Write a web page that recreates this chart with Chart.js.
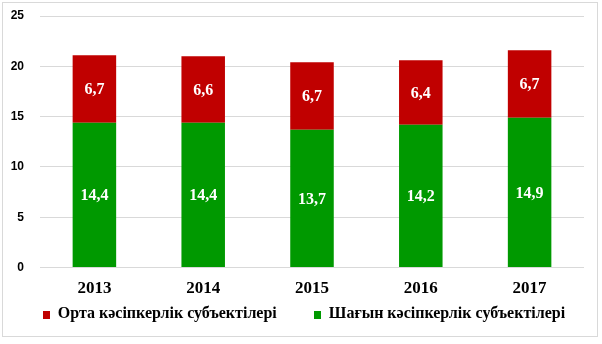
<!DOCTYPE html>
<html>
<head>
<meta charset="utf-8">
<script src="https://cdn.jsdelivr.net/npm/chart.js@4/dist/chart.umd.min.js"></script>
<style>
    html, body { margin: 0; padding: 0; background: #fff; }
    #wrap { position: relative; width: 602px; height: 344px; }
    #legend {
        position: absolute; left: 0; top: 304px; width: 608px;
        display: flex; justify-content: center; align-items: center;
        font: bold 16px "Liberation Serif", "Times New Roman", serif; color: #000;
    }
    .item { display: flex; align-items: center; }
    .item + .item { margin-left: 37px; }
    .box { width: 7px; height: 8px; margin-right: 8px; margin-top: 3px; }
</style>
</head>
<body>
<div id="wrap">
    <canvas id="chart" width="602" height="344"></canvas>
    <div id="legend"></div>
</div>
<script>
const years = ['2013', '2014', '2015', '2016', '2017'];
const smallValues = [14.4, 14.4, 13.7, 14.2, 14.9];
const mediumValues = [6.7, 6.6, 6.7, 6.4, 6.7];
const smallLabel = 'Шағын кәсіпкерлік субъектілері';
const mediumLabel = 'Орта кәсіпкерлік субъектілері';
const yTicks = [0, 5, 10, 15, 20, 25];

const GREEN = 'rgb(0, 153, 0)';
const RED = 'rgb(192, 0, 0)';
const GRID = '#d9d9d9';
const serif = '"Liberation Serif", "Times New Roman", serif';

// white value labels in the middle of each segment
const valueLabels = {
    id: 'valueLabels',
    afterDatasetsDraw(chart) {
        const ctx = chart.ctx;
        ctx.save();
        ctx.font = `bold 16px ${serif}`;
        ctx.fillStyle = '#fff';
        ctx.textAlign = 'center';
        ctx.textBaseline = 'middle';
        chart.data.datasets.forEach((ds, i) => {
            chart.getDatasetMeta(i).data.forEach((bar, j) => {
                const p = bar.getCenterPoint();
                ctx.fillText(ds.data[j].toFixed(1).replace('.', ','), p.x, p.y + 1);
            });
        });
        ctx.restore();
    }
};

// light frame around the whole chart
const frame = {
    id: 'frame',
    afterDraw(chart) {
        const ctx = chart.ctx;
        ctx.save();
        ctx.strokeStyle = GRID;
        ctx.lineWidth = 1;
        ctx.strokeRect(2.5, 2.5, 595, 334);
        ctx.restore();
    }
};

const chart = new Chart(document.getElementById('chart').getContext('2d'), {
    type: 'bar',
    data: {
        labels: years,
        datasets: [
            { label: smallLabel, data: smallValues, backgroundColor: GREEN, barPercentage: 0.4, categoryPercentage: 1 },
            { label: mediumLabel, data: mediumValues, backgroundColor: RED, barPercentage: 0.4, categoryPercentage: 1 }
        ]
    },
    options: {
        responsive: false,
        animation: false,
        layout: { padding: { left: 3, top: 16, right: 18, bottom: 34 } },
        scales: {
            x: {
                stacked: true,
                grid: { display: false, drawTicks: false },
                border: { display: false },
                ticks: {
                    padding: 11,
                    color: '#000',
                    font: { family: serif, size: 17, weight: 'bold' }
                }
            },
            y: {
                stacked: true,
                min: yTicks[0],
                max: yTicks[yTicks.length - 1],
                afterBuildTicks: s => { s.ticks = yTicks.map(v => ({ value: v })); },
                afterFit: s => { s.width = 37; },
                grid: { color: GRID, lineWidth: 1, drawTicks: true, tickLength: 10, tickColor: 'rgba(0,0,0,0)' },
                border: { display: false },
                ticks: {
                    padding: 6,
                    color: '#000',
                    font: { family: '"Liberation Sans", Arial, sans-serif', size: 12, weight: 'bold' }
                }
            }
        },
        plugins: {
            legend: { display: false },
            tooltip: { enabled: false }
        }
    },
    plugins: [valueLabels, frame]
});

// legend: medium first, then small
const legend = document.getElementById('legend');
[[mediumLabel, RED], [smallLabel, GREEN]].forEach(([text, color]) => {
    const item = document.createElement('div');
    item.className = 'item';
    const box = document.createElement('span');
    box.className = 'box';
    box.style.background = color;
    const label = document.createElement('span');
    label.textContent = text;
    item.appendChild(box);
    item.appendChild(label);
    legend.appendChild(item);
});
</script>
</body>
</html>
